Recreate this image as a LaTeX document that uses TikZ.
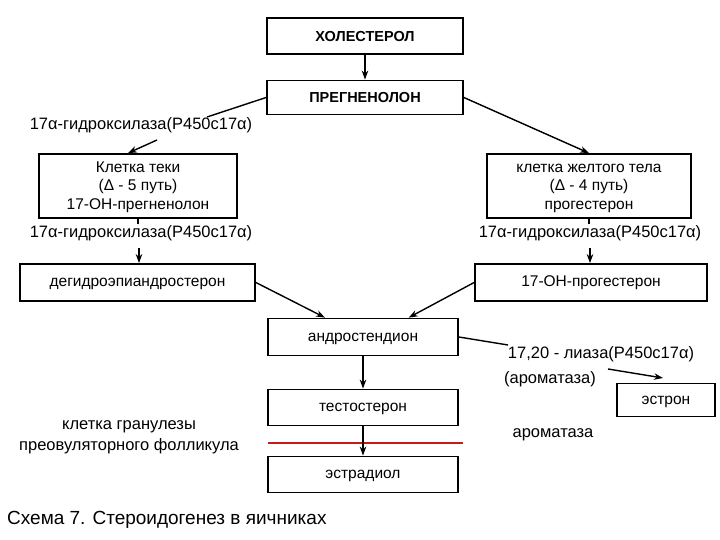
\documentclass[tikz,border=0pt]{standalone}
\usepackage{fontspec}
\setmainfont{Liberation Sans}
\usetikzlibrary{arrows.meta}
\definecolor{redline}{RGB}{200,25,25}
\begin{document}
\begin{tikzpicture}[x=1pt,y=-1pt,
  box/.style={draw,line width=1.8pt,inner sep=0pt,text height=8pt,text depth=0pt,font=\fontsize{15.5}{18}\selectfont},
  mbox/.style={draw,line width=1.8pt,inner sep=0pt,align=center,text height=47pt,text depth=0pt,font=\fontsize{15.5}{18.5}\selectfont},
  bbox/.style={draw,line width=1.8pt,inner sep=0pt,text height=10.4pt,text depth=0pt,font=\fontsize{14.5}{16}\selectfont\bfseries},
  lbl/.style={inner sep=0pt,font=\fontsize{16.5}{18}\selectfont},
  conn/.style={line width=1.4pt},
  arr/.style={line width=1.4pt,-{Stealth[length=9pt,width=6.5pt]}}]
\useasboundingbox[fill=white] (0,0) rectangle (720,540);
% boxes
\node[bbox,minimum width=196pt,minimum height=36pt] (chol) at (365,36) {ХОЛЕСТЕРОЛ};
\node[bbox,minimum width=196pt,minimum height=34pt] (preg) at (365,97.5) {ПРЕГНЕНОЛОН};
\node[mbox,minimum width=198pt,minimum height=64pt] (teki) at (138,186) {Клетка теки\\(Δ - 5 путь)\\17-ОН-прегненолон};
\node[mbox,minimum width=204pt,minimum height=64pt] (zhelt) at (589,186) {клетка желтого тела\\(Δ - 4 путь)\\прогестерон};
\node[box,minimum width=235pt,minimum height=37pt] (dhea) at (137.5,282.5) {дегидроэпиандростерон};
\node[box,minimum width=232pt,minimum height=37pt] (ohp) at (591,282.5) {17-ОН-прогестерон};
\node[box,minimum width=190pt,minimum height=37pt] (andr) at (363,337) {андростендион};
\node[box,minimum width=190pt,minimum height=36pt] (test) at (363,407.5) {тестостерон};
\node[box,minimum width=190pt,minimum height=36pt] (estr) at (363,474.5) {эстрадиол};
\node[box,minimum width=98pt,minimum height=33pt] (estron) at (666,400) {эстрон};
% labels
\node[lbl] (lab1) at (141,125) {17α-гидроксилаза(P450c17α)};
\node[lbl] (lab2) at (141,233) {17α-гидроксилаза(P450c17α)};
\node[lbl] (lab3) at (590,233) {17α-гидроксилаза(P450c17α)};
\node[lbl] (lyase) at (601,354) {17,20 - лиаза(P450c17α)};
\node[lbl] (arom1) at (550,379) {(ароматаза)};
\node[lbl] (arom2) at (553,435) {ароматаза};
\node[lbl] (gran1) at (129,427) {клетка гранулезы};
\node[lbl] (gran2) at (129,446) {преовуляторного фолликула};
\node[lbl,anchor=west,font=\fontsize{19}{21}\selectfont] (cap) at (7,520) {Схема 7. Стероидогенез в яичниках};
% coordinates
\coordinate (p1) at (207,117);
\coordinate (p2) at (157,140);
\coordinate (q1) at (139,248);
\coordinate (q2) at (590,248);
\coordinate (r1) at (508,345);
\coordinate (r2) at (608,369);
\coordinate (r3) at (663,378);
% connectors
\draw[arr] (chol) -- (preg);
\draw[conn] (preg.west) -- (p1);
\draw[arr] (p2) -- (teki.107);
\draw[arr] (preg.east) -- (zhelt.north);
\draw[conn] (teki.south) -- ++(0,5);
\draw[conn] (zhelt.south) -- ++(0,5);
\draw[arr] (q1) -- (dhea.north -| q1);
\draw[arr] (q2) -- (ohp.north -| q2);
\draw[arr] (dhea.east) -- (andr.153);
\draw[arr] (ohp.west) -- (andr.23);
\draw[conn] (andr.east) -- (r1);
\draw[arr] (r2) -- (r3);
\draw[arr] (andr) -- (test);
\draw[redline,line width=1.2pt] (268,443) coordinate (red1) -- (463,443) coordinate (red2);
\draw[arr] (test) -- (estr);
\end{tikzpicture}
\end{document}
